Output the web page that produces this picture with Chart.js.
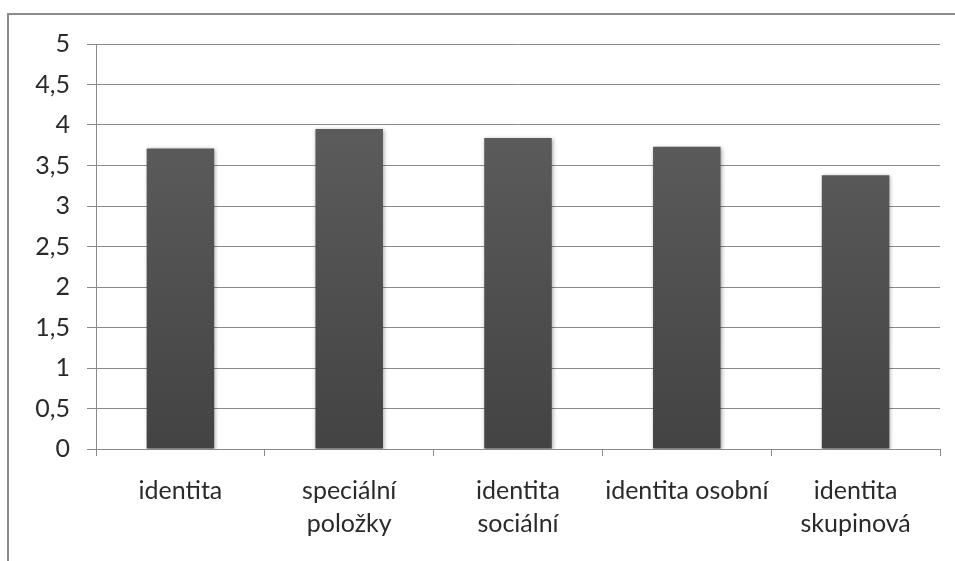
<!DOCTYPE html>
<html>
<head>
<meta charset="utf-8">
<script src="https://cdn.jsdelivr.net/npm/chart.js@4"></script>
<style>
  html, body { margin: 0; padding: 0; background: #fff; }
  #wrap { position: relative; width: 955px; height: 561px; overflow: hidden; }
  #frame { position: absolute; left: 7px; top: 13px; width: 1000px; height: 600px;
           border-left: 2px solid #8c8c8c; border-top: 2px solid #8c8c8c; }
  canvas { position: absolute; left: 0; top: 0; }
</style>
</head>
<body>
<div id="wrap">
  <div id="frame"></div>
  <canvas id="bar-chart" width="955" height="561"></canvas>
</div>
<script>
// data
const categories = [
  'identita',
  ['speciální', 'položky'],
  ['identita', 'sociální'],
  'identita osobní',
  ['identita', 'skupinová'],
];
const values = [3.71, 3.95, 3.84, 3.73, 3.38];
const yTicks = [0, 0.5, 1, 1.5, 2, 2.5, 3, 3.5, 4, 4.5, 5];

const gridColor = '#8a8a8a';
const labelFont = { family: 'Lato, "Open Sans", sans-serif', size: 25, lineHeight: 1.32 };

// soft shadow behind the bars
const barShadow = {
  id: 'barShadow',
  beforeDatasetsDraw(chart) {
    const c = chart.ctx;
    c.save();
    c.shadowColor = 'rgba(0,0,0,0.35)';
    c.shadowBlur = 4;
    c.shadowOffsetX = 1;
    c.shadowOffsetY = 1;
  },
  afterDatasetsDraw(chart) {
    chart.ctx.restore();
  },
};

function barFill(ctx) {
  const area = ctx.chart.chartArea;
  if (!area) return '#505050';
  const g = ctx.chart.ctx.createLinearGradient(0, area.top, 0, area.bottom);
  g.addColorStop(0, '#626262');
  g.addColorStop(1, '#434343');
  return g;
}

new Chart(document.getElementById('bar-chart'), {
  type: 'bar',
  data: {
    labels: categories,
    datasets: [{
      data: values,
      backgroundColor: barFill,
      borderWidth: 0,
      categoryPercentage: 1,
      barPercentage: 0.4,
    }],
  },
  plugins: [barShadow],
  options: {
    responsive: false,
    animation: false,
    layout: { padding: { top: 44, right: 15, left: 0, bottom: 0 } },
    plugins: {
      legend: { display: false },
      tooltip: { enabled: false },
    },
    scales: {
      x: {
        grid: { offset: true, drawOnChartArea: false, drawTicks: true, tickLength: 7, color: gridColor },
        border: { color: gridColor, width: 1 },
        ticks: { color: '#2a2a2a', font: labelFont, padding: 18, maxRotation: 0, autoSkip: false },
        afterFit(scale) { scale.height = 112; },
      },
      y: {
        min: 0,
        max: 5,
        afterBuildTicks(scale) { scale.ticks = yTicks.map(v => ({ value: v })); },
        grid: { color: gridColor, tickLength: 9 },
        border: { color: gridColor, width: 1 },
        ticks: {
          color: '#2a2a2a',
          font: labelFont,
          padding: 17,
          callback: v => String(v).replace('.', ','),
        },
        afterFit(scale) { scale.width = 96; },
      },
    },
  },
});
</script>
</body>
</html>
